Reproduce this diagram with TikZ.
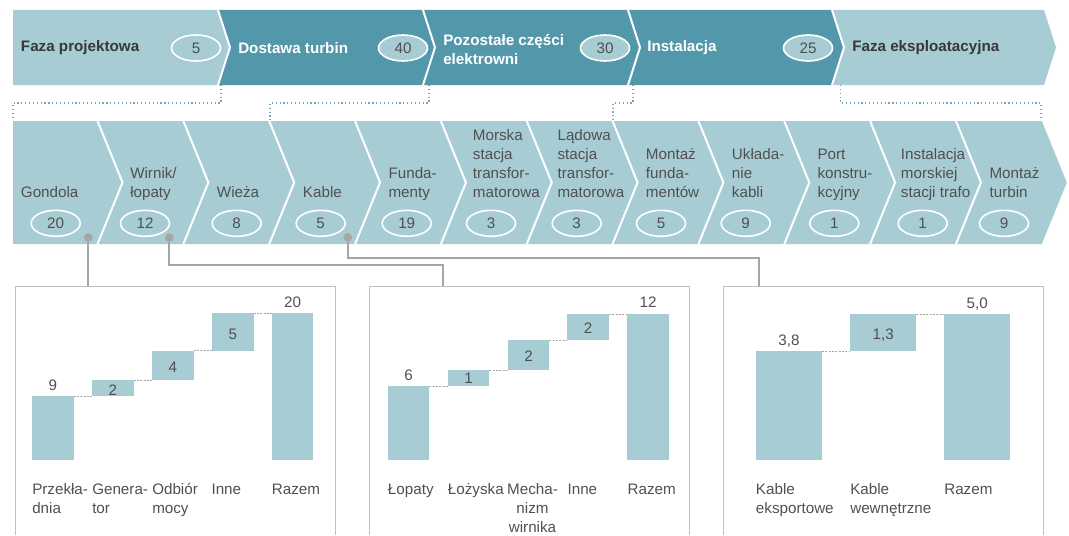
\documentclass[tikz,border=0pt]{standalone}
\usepackage{fontspec}
\setmainfont{Liberation Sans}
\usetikzlibrary{shapes.geometric}
\definecolor{lightteal}{HTML}{A8CCD4}
\definecolor{darkteal}{HTML}{5398AA}
\definecolor{labelgray}{HTML}{505050}
\definecolor{headgray}{HTML}{383838}
\definecolor{linkgray}{HTML}{A6A6A6}
\definecolor{framegray}{HTML}{C0C0C0}
\definecolor{dotteal}{HTML}{6FA8BB}

\newcommand{\botlines}[1]{\begin{tabular}[b]{@{}l@{}}#1\end{tabular}}
\newcommand{\toplines}[1]{\begin{tabular}[t]{@{}l@{}}#1\end{tabular}}
\newcommand{\midlines}[1]{\begin{tabular}[t]{@{}c@{}}#1\end{tabular}}
\newcommand{\basefont}{\fontsize{11.4}{14.25}\selectfont}

\tikzset{
  phase/.style={anchor=west, inner sep=0pt, font=\basefont\bfseries, align=left},
  count/.style={ellipse, draw=white, line width=1.2pt, fill=lightteal,
                minimum width=36.75pt, minimum height=19.5pt, inner sep=0pt, text=labelgray},
  stagetext/.style={anchor=base west, inner sep=0pt, text=labelgray},
  hook/.style={circle, fill=linkgray, minimum size=6.5pt, inner sep=0pt},
  link/.style={draw=linkgray, line width=1.4pt},
  bracket/.style={draw=dotteal, line width=0.9pt, dotted},
  frame/.style={draw=framegray, line width=0.75pt},
  bar/.style={fill=lightteal},
  guide/.style={draw=linkgray, line width=0.5pt, dash pattern=on 1.5pt off 1pt},
  value/.style={anchor=base, inner sep=0pt, text=labelgray},
  category/.style={anchor=base west, inner sep=0pt, text=labelgray},
}

\begin{document}
\begin{tikzpicture}[x=0.75pt, y=-0.75pt, font=\basefont]
  \useasboundingbox (0,0) rectangle (1069,535);

  % phases
  \fill[lightteal] (13,10) -- (218,10) -- (230,47.5) -- (218,85) -- (13,85) -- cycle;
  \fill[darkteal] (218,10) -- (832,10) -- (844,47.5) -- (832,85) -- (218,85) -- (230,47.5) -- cycle;
  \fill[lightteal] (832,10) -- (1044,10) -- (1056,47.5) -- (1044,85) -- (832,85) -- (844,47.5) -- cycle;
  \foreach \b in {218,423,628,832}
    \draw[white, line width=1.5pt] (\b,10) -- (\b+12,47.5) -- (\b,85);

  \node[phase, text=headgray] (design) at (20.7,48) {Faza projektowa};
  \node[phase, text=white] (turbines) at (238,48) {Dostawa turbin};
  \node[phase, text=white] (plant) at (443,50) {Pozostałe części\\elektrowni};
  \node[phase, text=white] (install) at (647,48) {Instalacja};
  \node[phase, text=headgray] (operation) at (852,48) {Faza eksploatacyjna};

  \node[count] (pc1) at (196,48) {5};
  \node[count] (pc2) at (403,48) {40};
  \node[count] (pc3) at (605,48) {30};
  \node[count] (pc4) at (808,48) {25};

  % brackets
  \draw[bracket] (221,85) -- (221,103) -| (13,120);
  \draw[bracket] (429,85) -- (429,103) -| (270,120);
  \draw[bracket] (633,85) -- (633,103) -| (613,120);
  \draw[bracket] (840.7,85) -- (840.7,103) -| (1041,120);

  % stages
  \fill[lightteal] (13,121) -- (1041.8,121) -- (1066.8,182.5) -- (1041.8,244) -- (13,244) -- cycle;
  \foreach \k in {1,...,11}
    \draw[white, line width=1.5pt] ({11.7+85.84*\k},121) -- ({36.7+85.84*\k},182.5) -- ({11.7+85.84*\k},244);

  \foreach \k/\tx/\ex/\txt/\num in {
      1/20.7/55.7/Gondola/20,
      2/130/145/{Wirnik/\\łopaty}/12,
      3/216.7/236.7/Wieża/8,
      4/302.7/320.7/Kable/5,
      5/388.3/406.7/{Funda-\\menty}/19,
      6/472.7/491/{Morska\\stacja\\transfor-\\matorowa}/3,
      7/557.3/576.7/{Lądowa\\stacja\\transfor-\\matorowa}/3,
      8/645.7/661/{Montaż\\funda-\\mentów}/5,
      9/731.7/745.7/{Układa-\\nie\\kabli}/9,
      10/817.3/834.3/{Port\\konstru-\\kcyjny}/1,
      11/900.7/922.7/{Instalacja\\morskiej\\stacji trafo}/1,
      12/989.3/1004/{Montaż\\turbin}/9} {
    \node[stagetext] (st\k) at (\tx,197) {\botlines{\txt}};
    \node[count, fill=none] (sc\k) at (\ex,223.3) {\num};
  }

  \node[hook] (gondolahook) at (88.3,237.6) {};
  \node[hook] (wirnikhook) at (169.3,237.5) {};
  \node[hook] (kablehook) at (347.7,237.3) {};

  % charts
  \draw[frame] (15,535) |- (335,286) -- (335,535);
  \draw[frame] (369.3,535) |- (689.3,286) -- (689.3,535);
  \draw[frame] (723.3,535) |- (1043.3,286) -- (1043.3,535);
  \coordinate (inA) at (88.3,286);
  \coordinate (inB) at (443.3,286);
  \coordinate (inC) at (759.3,286);

  \draw[link] (gondolahook) -- (inA);
  \draw[link] (wirnikhook) -- ++(0,27.5) -| (inB);
  \draw[link] (kablehook) -- ++(0,20.4) -| (inC);

  % gondola
  \fill[bar] (32,396) rectangle (73.7,460);
  \fill[bar] (92,380.3) rectangle (133.7,396);
  \fill[bar] (152,350.7) rectangle (193.7,380.3);
  \fill[bar] (212,313.3) rectangle (253.7,350.7);
  \fill[bar] (271.7,313.3) rectangle (313.4,460);
  \draw[guide] (73.7,396) -- (92,396);
  \draw[guide] (133.7,380.3) -- (152,380.3);
  \draw[guide] (193.7,350.7) -- (212,350.7);
  \draw[guide] (253.7,313.3) -- (271.7,313.3);
  \node[value] (ga1) at (52.85,390.5) {9};
  \node[value] (ga2) at (112.85,395.5) {2};
  \node[value] (ga3) at (172.85,372.8) {4};
  \node[value] (ga4) at (232.85,339.5) {5};
  \node[value] (ga5) at (292.55,307.2) {20};
  \node[category] (gl1) at (32,494.8) {\toplines{Przekła-\\dnia}};
  \node[category] (gl2) at (92,494.8) {\toplines{Genera-\\tor}};
  \node[category] (gl3) at (152,494.8) {\toplines{Odbiór\\mocy}};
  \node[category] (gl4) at (211.3,494.8) {Inne};
  \node[category] (gl5) at (271.7,494.8) {Razem};

  % wirnik
  \fill[bar] (387.7,386) rectangle (429.3,460);
  \fill[bar] (447.7,370.3) rectangle (489.3,386);
  \fill[bar] (507.7,340) rectangle (549.3,370.3);
  \fill[bar] (567.3,314) rectangle (608.9,340);
  \fill[bar] (627.3,314) rectangle (668.9,460);
  \draw[guide] (429.3,386) -- (447.7,386);
  \draw[guide] (489.3,370.3) -- (507.7,370.3);
  \draw[guide] (549.3,340) -- (567.3,340);
  \draw[guide] (608.9,314) -- (627.3,314);
  \node[value] (wa1) at (408.5,380.5) {6};
  \node[value] (wa2) at (468.5,383.8) {1};
  \node[value] (wa3) at (528.5,361.2) {2};
  \node[value] (wa4) at (588.1,333.8) {2};
  \node[value] (wa5) at (648.1,307.8) {12};
  \node[category] (wl1) at (387.7,494.8) {Łopaty};
  \node[category] (wl2) at (447.7,494.8) {Łożyska};
  \node[category, anchor=base] (wl3) at (532.5,494.8) {\midlines{Mecha-\\nizm\\wirnika}};
  \node[category] (wl4) at (567.3,494.8) {Inne};
  \node[category] (wl5) at (627.3,494.8) {Razem};

  % kable
  \fill[bar] (755.7,351) rectangle (822,460);
  \fill[bar] (850,314) rectangle (916.3,351);
  \fill[bar] (944,314) rectangle (1010.3,460);
  \draw[guide] (822,351) -- (850,351);
  \draw[guide] (916.3,314) -- (944,314);
  \node[value] (ka1) at (788.9,345.5) {3,8};
  \node[value] (ka2) at (883.2,339.5) {1,3};
  \node[value] (ka3) at (977.2,308.2) {5,0};
  \node[category] (kl1) at (755.7,494.8) {\toplines{Kable\\eksportowe}};
  \node[category] (kl2) at (850,494.8) {\toplines{Kable\\wewnętrzne}};
  \node[category] (kl3) at (944,494.8) {Razem};
\end{tikzpicture}
\end{document}
